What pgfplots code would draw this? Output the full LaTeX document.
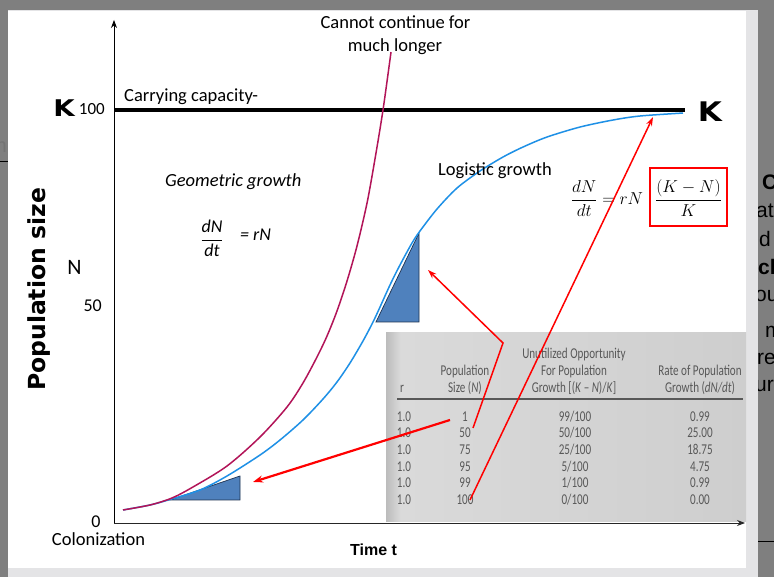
\documentclass[border=0pt]{standalone}
\usepackage{pgfplots}
\pgfplotsset{compat=1.18}
\usepackage{fontspec}
\usepackage{graphicx}
\setmainfont{Carlito}
\newfontfamily\dejavu{DejaVu Sans}
\newfontfamily\arial{Liberation Sans}
\usetikzlibrary{arrows.meta}
\definecolor{framegray}{RGB}{127,127,127}
\definecolor{bandgray}{RGB}{228,228,230}
\definecolor{geocol}{RGB}{178,20,88}
\definecolor{logcol}{RGB}{30,144,230}
\definecolor{tribl}{RGB}{79,129,189}
\definecolor{triedge}{RGB}{30,50,80}
\definecolor{tabbgl}{RGB}{188,188,188}
\definecolor{tabbgm}{RGB}{218,218,218}
\definecolor{tabbgr}{RGB}{206,206,206}
\definecolor{tabtxt}{RGB}{88,88,88}
\newcommand\tbx[1]{\scalebox{0.74}[1]{#1}}
\begin{document}
\begin{tikzpicture}[x=1pt,y=1pt,
  t18/.style={font=\fontsize{18.5}{22}\selectfont, inner sep=0pt},
  tab/.style={anchor=base, text=tabtxt, font=\fontsize{15}{17}\selectfont, inner sep=0pt},
  frag/.style={anchor=base west, font=\arial\fontsize{21}{24}\selectfont, inner sep=0pt}]
\useasboundingbox (0,0) rectangle (774,577);
\clip (0,0) rectangle (774,577);
% frame
\fill[framegray] (0,0) rectangle (774,577);
\node[anchor=base east, font=\arial\fontsize{20}{22}\selectfont, text=black!55, inner sep=0pt] at (7,424) {m};
\draw[black, line width=1pt] (0,415) -- (8,415);
\node[frag, font=\arial\bfseries\fontsize{21}{24}\selectfont] at (762,387) {C};
\node[frag] at (756,359) {at};
\node[frag] at (759,330) {d};
\node[frag, font=\arial\bfseries\fontsize{21}{24}\selectfont] at (758,302) {ch};
\node[frag] at (755,275) {ou};
\node[frag] at (765,239) {m};
\node[frag] at (757,212) {re};
\node[frag] at (755,185) {ur};
\draw[black, line width=1pt] (758,35) -- (774,35);
\fill[bandgray] (8,0) rectangle (758,567);
\fill[white] (8,9) rectangle (746,566);
% table image
\shade[left color=tabbgm, right color=tabbgr] (400,55) rectangle (746,244);
\shade[left color=tabbgl, right color=tabbgm] (386,55) rectangle (400.5,244);
\node[tab] at (574,218) {\tbx{Unutilized Opportunity}};
\node[tab] at (465,201) {\tbx{Population}};
\node[tab] at (574,201) {\tbx{For Population}};
\node[tab] at (700,201) {\tbx{Rate of Population}};
\node[tab] at (402,184) {\tbx{r}};
\node[tab] at (465,184) {\tbx{Size (\textit{N})}};
\node[tab] at (574,184) {\tbx{Growth [(\textit{K} -- \textit{N})/\textit{K}]}};
\node[tab] at (700,184) {\tbx{Growth (\textit{dN/dt})}};
\draw[tabtxt, line width=1.2pt] (397,178) -- (743,178);
\foreach \yy/\n/\a/\r in {155.6/1/99/0.99, 139.6/50/50/25.00, 122.3/75/25/18.75, 105.6/95/5/4.75, 89.0/99/1/0.99, 72.3/100/0/0.00}{
  \node[tab] at (404,\yy) {\tbx{1.0}};
  \node[tab] at (465,\yy) {\tbx{\n}};
  \node[tab] at (575,\yy) {\tbx{\a/100}};
  \node[tab] at (700,\yy) {\tbx{\r}};
}
% chart
\begin{axis}[at={(114pt,54pt)}, anchor=south west, scale only axis,
  width=631pt, height=503pt, xmin=0, xmax=100, ymin=0, ymax=121.8,
  axis x line=bottom, axis y line=left, xtick=\empty, ytick=\empty,
  axis line style={line width=0.9pt, -{Stealth[length=8pt,width=6pt]}},
  x axis line style={black!85}]
\addplot[black, line width=4pt] coordinates {(0,100) (90.5,100)};
\addplot[fill=tribl, draw=triedge, line width=0.7pt] coordinates {(8.87,5.57) (19.97,5.57) (19.97,11.38)} -- cycle;
\addplot[fill=tribl, draw=triedge, line width=0.7pt] coordinates {(41.52,48.67) (48.34,48.67) (48.34,70.22)} -- cycle;
\addplot[logcol, line width=1.5pt, smooth] coordinates {
(1.43,3.15) (5.71,4.36) (8.87,5.69) (13.63,7.99) (17.91,11.38) (23.14,16.46)
(26.31,20.10) (29.95,24.94) (33.12,30.02) (35.34,34.14) (37.40,38.74)
(39.46,44.07) (41.05,48.67) (42.16,52.30) (43.74,57.63) (45.32,62.47)
(47.23,67.80) (48.49,70.70) (51.19,76.03) (54.36,81.11) (58.00,85.23)
(61.65,88.62) (64.82,91.04) (68.62,93.46) (73.85,95.88) (79.08,97.58)
(83.36,98.55) (90.17,99.27)};
\addplot[geocol, line width=1.5pt, smooth] coordinates {
(1.43,3.15) (5.71,4.36) (9.19,6.05) (12.52,8.72) (17.91,13.80) (23.14,20.82)
(27.42,28.09) (29.95,33.90) (32.17,40.19) (33.76,45.28) (35.34,51.33)
(36.93,58.60) (38.51,67.07) (40.10,77.48) (41.36,88.14) (42.63,100.0)
(43.90,114.04)};
\end{axis}
% labels
\node[t18, anchor=base] at (395.5,548) {Cannot continue for};
\node[t18, anchor=base] at (395,525) {much longer};
\node[t18, anchor=base west] at (124,475) {Carrying capacity-};
\node[t18, anchor=base west, font=\fontsize{18.5}{22}\selectfont\itshape] at (165,390) {Geometric growth};
\node[t18, anchor=base west] at (438,401) {Logistic growth};
\node[anchor=base, inner sep=0pt, font=\fontsize{18}{21}\selectfont\itshape] at (212,332.5) {$\displaystyle\frac{\mbox{\itshape dN}}{\mbox{\itshape dt}}$};
\node[anchor=base west, inner sep=0pt, font=\fontsize{18}{21}\selectfont\itshape] at (240,336) {= rN};
\node[anchor=base, inner sep=0pt, font=\fontsize{18}{21}\selectfont] at (607,372.5) {$\displaystyle\frac{dN}{dt}=rN$};
\draw[red, line width=2.5pt] (650,409) rectangle (727,351);
\node[anchor=base, inner sep=0pt, font=\fontsize{18}{21}\selectfont] at (688.5,372.5) {$\displaystyle\frac{(K-N)}{K}$};
\node[anchor=base, inner sep=0pt, font=\dejavu\bfseries\fontsize{23}{26}\selectfont] at (64,460) {\scalebox{1.2}[1]{K}};
\node[anchor=base, inner sep=0pt, font=\dejavu\bfseries\fontsize{27}{30}\selectfont] at (710,455) {\scalebox{1.15}[1]{K}};
\node[anchor=base east, inner sep=0pt, font=\fontsize{17}{20}\selectfont] at (105,462) {100};
\node[anchor=base east, inner sep=0pt, font=\fontsize{18}{21}\selectfont] at (102,265) {50};
\node[anchor=base, inner sep=0pt, font=\fontsize{18}{21}\selectfont] at (96,49) {0};
\node[anchor=base, inner sep=0pt, font=\fontsize{22}{26}\selectfont] at (74.5,302) {N};
\node[t18, anchor=base] at (98.5,31) {Colonization};
\node[anchor=base west, inner sep=0pt, font=\arial\bfseries\fontsize{16}{19}\selectfont] at (350,21) {Time t};
\node[anchor=base, rotate=90, inner sep=0pt, font=\dejavu\bfseries\fontsize{23.5}{27}\selectfont] at (46,287.5) {Population size};
% red arrows
\draw[red, line width=1.5pt, -{Stealth[length=9pt,width=6pt]}] (473,149) -- (503,234) -- (428,307);
\draw[red, line width=2.2pt, -{Stealth[length=10pt,width=7pt]}] (450,157) -- (253,95);
\draw[red, line width=1.5pt, -{Stealth[length=9pt,width=6pt]}] (470,77) -- (653,460);
\end{tikzpicture}
\end{document}
